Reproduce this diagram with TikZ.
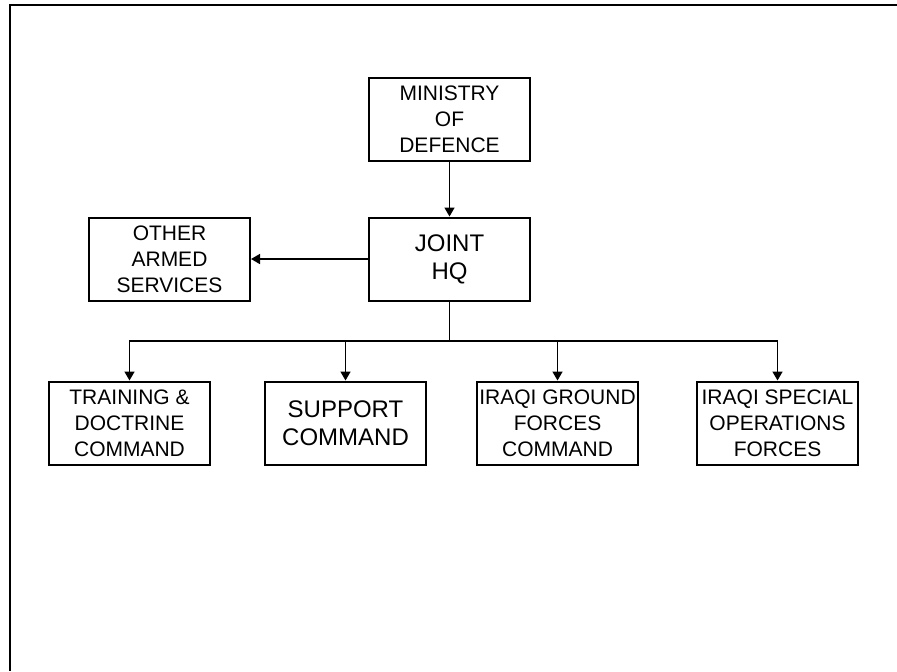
\documentclass[tikz,border=0pt]{standalone}
\usepackage{fontspec}
\setmainfont{Liberation Sans}
\usetikzlibrary{arrows.meta}
\tikzset{
  unit/.style={draw,line width=1pt,minimum width=80.5pt,minimum height=41.5pt,
    inner sep=1pt,align=center,font=\fontsize{10.5}{13}\selectfont},
  bigunit/.style={unit,font=\fontsize{12}{14}\selectfont},
  link/.style={line width=.8pt,-{Triangle[length=4.5pt,width=5pt]}},
}
\begin{document}
\begin{tikzpicture}[x=.5pt,y=-.5pt]
\useasboundingbox (0,0) rectangle (897,671);
\draw[line width=1.1pt] (10,671)--(10,5)--(897,5);
%
\node[unit] (mod) at (449.5,119.5) {MINISTRY\\OF\\DEFENCE};
\node[bigunit] (hq) at (449.5,259) {JOINT\\HQ};
\node[unit] (oas) at (169.5,259) {OTHER\\ARMED\\SERVICES};
%
\node[unit] (tdc) at (129.5,423) {TRAINING \&\\DOCTRINE\\COMMAND};
\node[bigunit] (sup) at (345.5,423) {SUPPORT\\COMMAND};
\node[unit] (igf) at (557.5,423) {IRAQI GROUND\\FORCES\\COMMAND};
\node[unit] (iso) at (777.5,423) {IRAQI SPECIAL\\OPERATIONS\\FORCES};
%
\draw[link] (mod) -- (hq);
\draw[link] (hq) -- (oas);
\coordinate (bus) at (449.5,341);
\draw[line width=.8pt] (hq.south) -- (bus);
\foreach \n in {tdc,sup,igf,iso}
  \draw[link] (bus) -| (\n.north);
%
\end{tikzpicture}
\end{document}
